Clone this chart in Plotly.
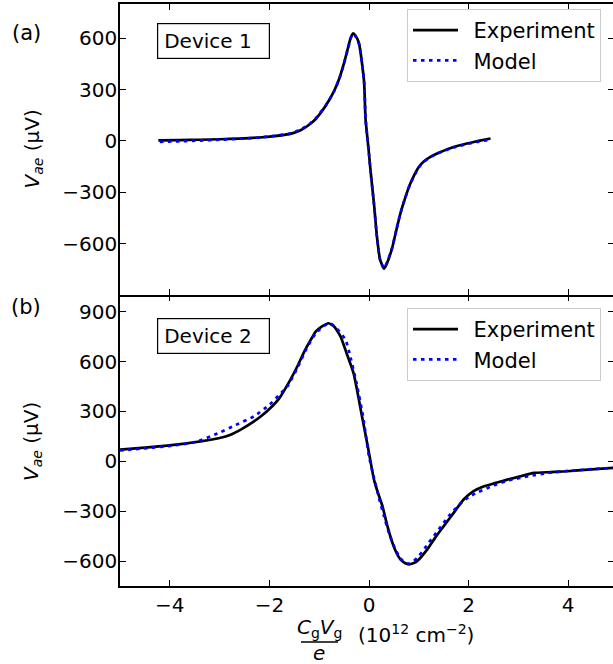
import plotly.graph_objects as go

# ---------------- data ----------------
# Device 1 (panel a)
x1_exp = [-4.23, -3.8, -3.4, -3.0, -2.6, -2.2, -1.9, -1.6, -1.375, -1.17, -1.07, -0.87, -0.707,
          -0.6, -0.506, -0.42, -0.37, -0.317, -0.27, -0.2, -0.1, -0.07, -0.04, 0.0, 0.03, 0.1,
          0.16, 0.22, 0.30, 0.36, 0.47, 0.55, 0.63, 0.73, 0.83, 1.0, 1.10, 1.25, 1.44, 1.7,
          1.97, 2.2, 2.44]
y1_exp = [3, 5, 7, 10, 14, 20, 28, 40, 62, 102, 128, 205, 288,
          362, 450, 545, 600, 628, 615, 570, 350, 130, 40, -75, -171, -366,
          -561, -690, -746, -715, -620, -520, -425, -330, -249, -152, -120, -90, -64, -35,
          -15, 0, 14]
x1_mod = [-4.2, -3.8, -3.4, -3.0, -2.6, -2.2, -1.9, -1.6, -1.375, -1.17, -1.07, -0.87, -0.707,
          -0.6, -0.506, -0.42, -0.37, -0.317, -0.27, -0.2, -0.1, -0.07, -0.04, 0.0, 0.03, 0.1,
          0.16, 0.22, 0.30, 0.36, 0.47, 0.55, 0.63, 0.73, 0.83, 1.0, 1.10, 1.25, 1.44, 1.7,
          1.97, 2.2, 2.42]
y1_mod = [-5, -2, 2, 7, 13, 20, 30, 43, 66, 105, 132, 207, 286,
          360, 448, 542, 598, 626, 612, 566, 352, 135, 35, -78, -175, -370,
          -565, -692, -744, -712, -618, -518, -423, -330, -250, -155, -122, -92, -65, -38,
          -18, -4, 6]

# Device 2 (panel b)
x2_exp = [-5, -4.5, -4.05, -3.7, -3.38, -3.0, -2.78, -2.55, -2.31, -2.15, -1.98, -1.8, -1.58,
          -1.44, -1.3, -1.17, -1.07, -0.95, -0.81, -0.7, -0.57, -0.45, -0.31, -0.14, -0.05, 0.0,
          0.10, 0.18, 0.27, 0.37, 0.47, 0.55, 0.63, 0.72, 0.80, 0.90, 0.97, 1.17, 1.35, 1.50,
          1.70, 1.90, 2.1, 2.31, 2.55, 2.78, 3.05, 3.31, 3.65, 3.98, 4.4, 4.9]
y2_exp = [70, 82, 94, 106, 120, 140, 160, 195, 240, 275, 320, 380, 490,
          570, 660, 730, 780, 810, 830, 810, 750, 650, 530, 270, 130, 50,
          -110, -190, -270, -390, -490, -550, -590, -612, -620, -612, -600, -530, -450, -390,
          -310, -230, -180, -150, -130, -110, -90, -70, -65, -60, -50, -40]
x2_mod = [-5, -4.5, -4.0, -3.5, -3.0, -2.7, -2.31, -2.0, -1.8, -1.64, -1.44, -1.25, -1.07,
          -0.9, -0.77, -0.65, -0.47, -0.4, -0.25, -0.12, 0.0, 0.1, 0.2, 0.3, 0.4, 0.5, 0.6,
          0.7, 0.8, 0.9, 1.0, 1.2, 1.4, 1.6, 1.8, 2.0, 2.2, 2.5, 2.8, 3.2, 3.6, 4.0, 4.5, 4.9]
y2_mod = [65, 78, 92, 115, 172, 215, 270, 340, 400, 450, 560, 680, 770,
          815, 828, 800, 730, 660, 470, 270, 30, -100, -220, -330, -430, -510, -570,
          -605, -615, -600, -570, -490, -410, -330, -265, -215, -185, -145, -115, -90, -70,
          -58, -47, -40]

x_ticks = [-4, -2, 0, 2, 4]
y1_ticks = [-600, -300, 0, 300, 600]
y2_ticks = [-600, -300, 0, 300, 600, 900]
legend_labels = ["Experiment", "Model"]
device_labels = ["Device 1", "Device 2"]
panel_labels = ["(a)", "(b)"]

# ---------------- geometry helpers ----------------
W, H = 613, 664
L, R, T, B = 120, 0, 4, 78
PW = W - L - R
PH = H - T - B


def px(xp):
    return (xp - L) / PW


def py(yp):
    return (H - B - yp) / PH


FONT = "DejaVu Sans"
FS = 21
TFS = 20

fig = go.Figure()

exp_line = dict(color="black", width=2.7, shape="spline", smoothing=0.5)
mod_line = dict(color="#0000ff", width=2.7, dash="3.5px,4.5px", shape="spline", smoothing=0.5)
SP = "\u2002"

fig.add_trace(go.Scatter(x=x1_exp, y=y1_exp, mode="lines", line=exp_line, name=SP + legend_labels[0],
                         xaxis="x", yaxis="y", legend="legend", legendgroup="a1"))
fig.add_trace(go.Scatter(x=x1_mod, y=y1_mod, mode="lines", line=mod_line, name=SP + legend_labels[1],
                         xaxis="x", yaxis="y", legend="legend", legendgroup="a2"))
fig.add_trace(go.Scatter(x=x2_exp, y=y2_exp, mode="lines", line=exp_line, name=SP + legend_labels[0],
                         xaxis="x2", yaxis="y2", legend="legend2", legendgroup="b1"))
fig.add_trace(go.Scatter(x=x2_mod, y=y2_mod, mode="lines", line=mod_line, name=SP + legend_labels[1],
                         xaxis="x2", yaxis="y2", legend="legend2", legendgroup="b2"))
# invisible traces to anchor the tick-only axes
fig.add_trace(go.Scatter(x=[None], y=[None], xaxis="x", yaxis="y3", showlegend=False, hoverinfo="skip"))
fig.add_trace(go.Scatter(x=[None], y=[None], xaxis="x2", yaxis="y4", showlegend=False, hoverinfo="skip"))
fig.add_trace(go.Scatter(x=[None], y=[None], xaxis="x3", yaxis="y2", showlegend=False, hoverinfo="skip"))

xrange = [-5, -5 + PW / 49.8]
tick_style = dict(ticks="inside", ticklen=6, tickwidth=1.3, tickcolor="black",
                  showgrid=False, zeroline=False)
common_x = dict(tick_style, range=xrange, tickvals=x_ticks, showline=True, linecolor="black",
                linewidth=1.5, tickfont=dict(family=FONT, size=TFS, color="black"))
common_y = dict(tick_style, showline=True, linecolor="black", linewidth=1.5,
                tickfont=dict(family=FONT, size=TFS, color="black"), ticklabelstandoff=-3)
right_y = dict(tick_style, ticklen=5, showline=False, showticklabels=False, side="right")

y1_range = [-900, 800]
y2_range = [-750, 1000]

legend_common = dict(xanchor="left", yanchor="top", bgcolor="white", bordercolor="#cccccc",
                     borderwidth=1, font=dict(family=FONT, size=FS), itemwidth=45,
                     tracegroupgap=0)

fig.update_layout(
    width=W, height=H,
    margin=dict(l=L, r=R, t=T, b=B),
    plot_bgcolor="white", paper_bgcolor="white",
    font=dict(family=FONT, size=FS, color="black"),
    xaxis=dict(common_x, domain=[0, 1], anchor="y", showticklabels=False, mirror="ticks"),
    xaxis2=dict(common_x, domain=[0, 1], anchor="y2", showticklabels=True, mirror=False,
                ticklabelstandoff=0),
    xaxis3=dict(tick_style, overlaying="x2", anchor="y2", side="top", range=xrange,
                tickvals=x_ticks, showline=False, showticklabels=False),
    yaxis=dict(common_y, domain=[0.5, 1], anchor="x", range=y1_range, tickvals=y1_ticks),
    yaxis2=dict(common_y, domain=[0, 0.5], anchor="x2", range=y2_range, tickvals=y2_ticks),
    yaxis3=dict(right_y, overlaying="y", anchor="x", range=y1_range, tickvals=y1_ticks),
    yaxis4=dict(right_y, overlaying="y2", anchor="x2", range=y2_range, tickvals=y2_ticks),
    legend=dict(legend_common, x=px(407), y=py(9)),
    legend2=dict(legend_common, x=px(407), y=py(308)),
    showlegend=True,
)

ann = []
# panel labels
for lab, yp in zip(panel_labels, [33, 307]):
    ann.append(dict(text=lab, x=px(26), y=py(yp), xref="paper", yref="paper", showarrow=False,
                    xanchor="center", yanchor="middle", font=dict(family=FONT, size=FS)))
# device boxes
for lab, yp in zip(device_labels, [23, 318]):
    ann.append(dict(text=lab, x=px(157), y=py(yp), xref="paper", yref="paper", showarrow=False,
                    xanchor="left", yanchor="top", align="left", width=99, height=22,
                    borderpad=6, bordercolor="black", borderwidth=1.2, bgcolor="white",
                    font=dict(family=FONT, size=FS - 1)))
# y titles
for yp in [149.5, 442]:
    ann.append(dict(text="<i>V</i><sub><i>ae</i></sub> (μV)", x=px(32), y=py(yp), xref="paper",
                    yref="paper", showarrow=False, textangle=-90, xanchor="center",
                    yanchor="middle", font=dict(family=FONT, size=FS - 1)))
# x title (fraction)
ann.append(dict(text="<i>C</i><sub>g</sub><i>V</i><sub>g</sub>", x=px(319), y=py(628),
                xref="paper", yref="paper", showarrow=False, xanchor="center", yanchor="middle",
                font=dict(family=FONT, size=FS - 1)))
ann.append(dict(text="<i>e</i>", x=px(319), y=py(653), xref="paper", yref="paper",
                showarrow=False, xanchor="center", yanchor="middle",
                font=dict(family=FONT, size=FS - 1)))
ann.append(dict(text="(10<sup>12</sup> cm<sup>−2</sup>)", x=px(416), y=py(634), xref="paper",
                yref="paper", showarrow=False, xanchor="center", yanchor="middle",
                font=dict(family=FONT, size=FS - 1)))
fig.update_layout(annotations=ann)
fig.add_shape(type="line", xref="paper", yref="paper", x0=px(301), x1=px(338),
              y0=py(642), y1=py(642), line=dict(color="black", width=1.5))

fig.write_html("out.html", config={"displayModeBar": False},
               post_script="document.body.style.margin='0';")
